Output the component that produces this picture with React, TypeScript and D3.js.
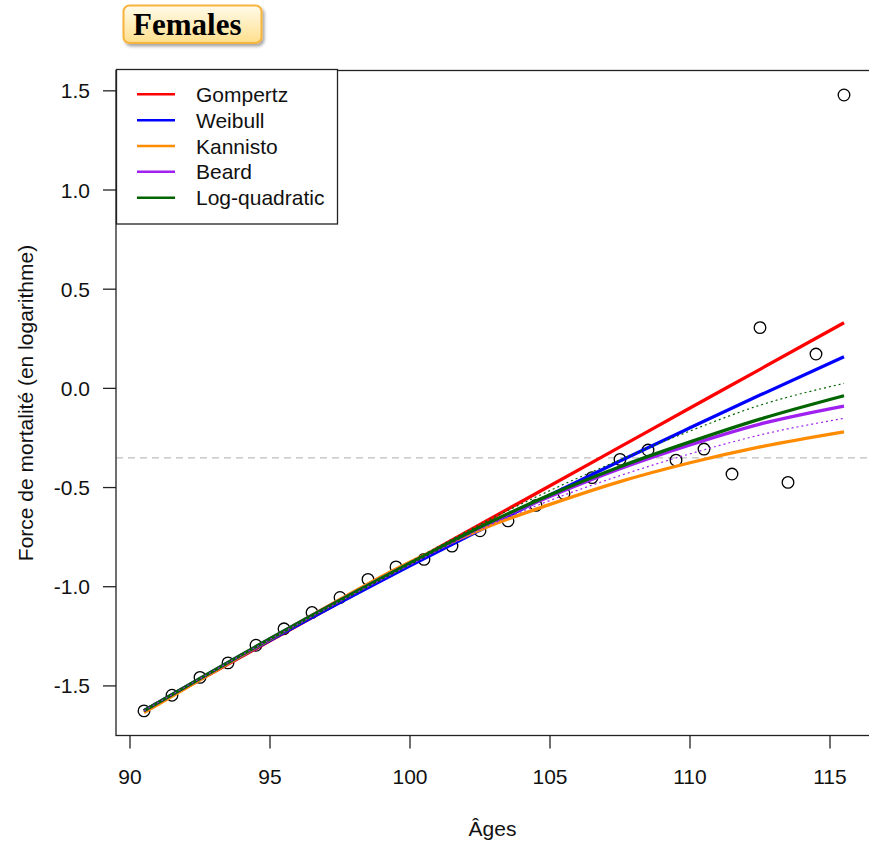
import React from "react";
import * as d3 from "d3";

const obsAges = [90.5, 91.5, 92.5, 93.5, 94.5, 95.5, 96.5, 97.5, 98.5, 99.5, 100.5, 101.5, 102.5, 103.5, 104.5, 105.5, 106.5, 107.5, 108.5, 109.5, 110.5, 111.5, 112.5, 113.5, 114.5, 115.5];
const obsValues = [-1.626, -1.547, -1.457, -1.384, -1.295, -1.212, -1.13, -1.054, -0.963, -0.9, -0.862, -0.795, -0.718, -0.668, -0.59, -0.53, -0.45, -0.358, -0.311, -0.362, -0.306, -0.432, 0.306, -0.474, 0.173, 1.479];

const fitAges = [90.5, 95, 100, 103, 105, 107.5, 110, 112.5, 115.5];
const gompertz = [-1.625, -1.273, -0.882, -0.647, -0.491, -0.295, -0.099, 0.096, 0.331];
const weibull = [-1.625, -1.27, -0.895, -0.679, -0.538, -0.366, -0.199, -0.034, 0.159];
const kannisto = [-1.635, -1.265, -0.875, -0.685, -0.585, -0.47, -0.375, -0.295, -0.219];
const beard = [-1.625, -1.262, -0.882, -0.668, -0.545, -0.405, -0.285, -0.18, -0.089];
const logQuad = [-1.625, -1.262, -0.882, -0.665, -0.537, -0.395, -0.27, -0.155, -0.037];
const logQuadUpper = [-1.625, -1.26, -0.875, -0.65, -0.515, -0.36, -0.215, -0.085, 0.025];
const beardLower = [-1.625, -1.265, -0.89, -0.68, -0.565, -0.44, -0.33, -0.235, -0.151];

const legendLabels = ["Gompertz", "Weibull", "Kannisto", "Beard", "Log-quadratic"];
const legendColors = ["#ff0000", "#0000ff", "#ff8c00", "#a020f0", "#006400"];
const xTicks = [90, 95, 100, 105, 110, 115];
const yTicks = [1.5, 1.0, 0.5, 0.0, -0.5, -1.0, -1.5];
const refLevel = -0.35;

const W = 869;
const H = 841;
const left = 116;
const right = 872;
const top = 70.5;
const bottom = 735.5;

export default function App() {
  const x = d3.scaleLinear().domain([89.5, 116.5]).range([left, right]);
  const y = d3.scaleLinear().domain([-1.75, 1.6025]).range([bottom, top]);
  const line = d3
    .line<number>()
    .x((_, i) => x(fitAges[i]))
    .y((d) => y(d))
    .curve(d3.curveMonotoneX);

  const solid = [gompertz, weibull, kannisto, beard, logQuad];
  const font = "'Liberation Sans', Arial, sans-serif";

  return (
    <div style={{ position: "absolute", left: 0, top: 0 }}>
      <svg width={W} height={H} style={{ display: "block", background: "#fff" }}>
        <defs>
          <linearGradient id="tg" x1="0" y1="0" x2="0" y2="1">
            <stop offset="0" stopColor="#fffbea" />
            <stop offset="1" stopColor="#ffdf8c" />
          </linearGradient>
          <filter id="sh" x="-10%" y="-20%" width="130%" height="160%">
            <feDropShadow dx="2" dy="2.5" stdDeviation="1.6" floodColor="#000" floodOpacity="0.35" />
          </filter>
          <clipPath id="clip">
            <rect x={left} y={top} width={right - left} height={bottom - top} />
          </clipPath>
        </defs>

        {/* title */}
        <rect x={123.5} y={5.5} width={138} height={37.5} rx={6} fill="url(#tg)" stroke="#f7b43c" strokeWidth={2} filter="url(#sh)" />
        <text x={133} y={35} fontFamily="'Liberation Serif', 'Times New Roman', serif" fontWeight="bold" fontSize={31} fill="#000">
          Females
        </text>

        {/* reference dashed line */}
        <line x1={left} x2={W} y1={y(refLevel)} y2={y(refLevel)} stroke="#bdbdbd" strokeWidth={1.3} strokeDasharray="7,5" />

        {/* observed points */}
        {obsAges.map((a, i) => (
          <circle key={i} cx={x(a)} cy={y(obsValues[i])} r={5.8} fill="none" stroke="#000" strokeWidth={1.3} />
        ))}

        {/* fitted curves */}
        <g clipPath="url(#clip)">
          {solid.map((s, i) => (
            <path key={i} d={line(s) || ""} fill="none" stroke={legendColors[i]} strokeWidth={3.3} strokeLinejoin="round" />
          ))}
          <path d={line(logQuadUpper) || ""} fill="none" stroke="#006400" strokeWidth={1.2} strokeDasharray="2,3" />
          <path d={line(beardLower) || ""} fill="none" stroke="#a020f0" strokeWidth={1.2} strokeDasharray="2,3" />
        </g>

        {/* frame */}
        <rect x={left} y={top} width={right - left} height={bottom - top} fill="none" stroke="#222" strokeWidth={1.3} />

        {/* x axis */}
        {xTicks.map((t) => (
          <g key={t}>
            <line x1={x(t)} x2={x(t)} y1={bottom} y2={bottom + 13} stroke="#222" strokeWidth={1.3} />
            <text x={x(t)} y={784} textAnchor="middle" fontFamily={font} fontSize={21} fill="#111">
              {t}
            </text>
          </g>
        ))}
        <text x={(left + W) / 2} y={836} textAnchor="middle" fontFamily={font} fontSize={21} fill="#111">
          Âges
        </text>

        {/* y axis */}
        {yTicks.map((t) => (
          <g key={t}>
            <line x1={left - 13} x2={left} y1={y(t)} y2={y(t)} stroke="#222" strokeWidth={1.3} />
            <text x={90} y={y(t)} dy="0.36em" textAnchor="end" fontFamily={font} fontSize={21} fill="#111">
              {t.toFixed(1)}
            </text>
          </g>
        ))}
        <text
          transform={`translate(33, ${(top + bottom) / 2}) rotate(-90)`}
          textAnchor="middle"
          fontFamily={font}
          fontSize={21}
          fill="#111"
        >
          Force de mortalité (en logarithme)
        </text>

        {/* legend */}
        <rect x={116.5} y={69.5} width={221} height={154.5} fill="#fff" stroke="#222" strokeWidth={1.3} />
        {legendLabels.map((lab, i) => {
          const cy = 94.3 + i * 25.85;
          return (
            <g key={lab}>
              <line x1={137} x2={175} y1={cy} y2={cy} stroke={legendColors[i]} strokeWidth={2.5} />
              <text x={196} y={cy} dy="0.36em" fontFamily={font} fontSize={21} fill="#111">
                {lab}
              </text>
            </g>
          );
        })}
      </svg>
    </div>
  );
}
